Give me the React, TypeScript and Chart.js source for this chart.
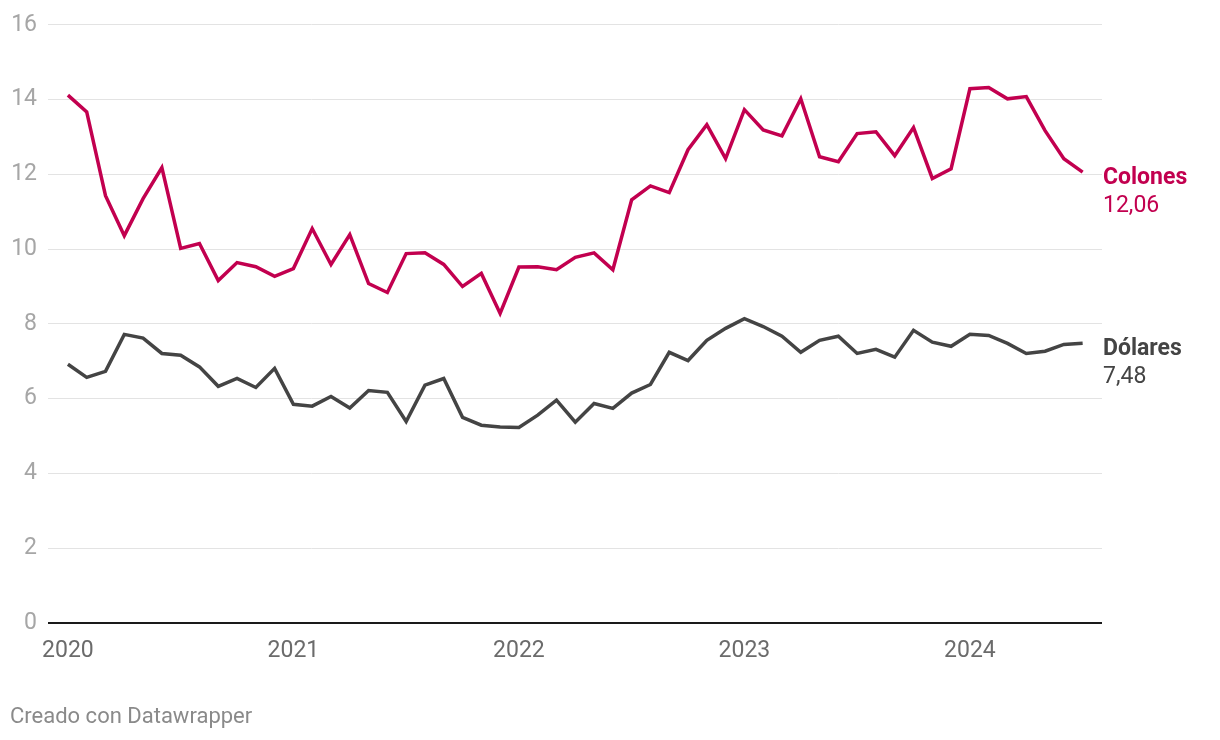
import React, { useEffect, useRef } from "react";
import { Chart, registerables } from "chart.js";

Chart.register(...registerables);

const months: string[] = [
  "2020-01","2020-02","2020-03","2020-04","2020-05","2020-06","2020-07","2020-08","2020-09","2020-10","2020-11","2020-12",
  "2021-01","2021-02","2021-03","2021-04","2021-05","2021-06","2021-07","2021-08","2021-09","2021-10","2021-11","2021-12",
  "2022-01","2022-02","2022-03","2022-04","2022-05","2022-06","2022-07","2022-08","2022-09","2022-10","2022-11","2022-12",
  "2023-01","2023-02","2023-03","2023-04","2023-05","2023-06","2023-07","2023-08","2023-09","2023-10","2023-11","2023-12",
  "2024-01","2024-02","2024-03","2024-04","2024-05","2024-06","2024-07",
];

const colones: number[] = [
  14.12, 13.67, 11.43, 10.36, 11.35, 12.18, 10.02, 10.15, 9.16, 9.64, 9.53, 9.27,
  9.48, 10.55, 9.59, 10.39, 9.08, 8.84, 9.88, 9.9, 9.59, 9.0, 9.35, 8.28,
  9.52, 9.53, 9.45, 9.78, 9.9, 9.45, 11.32, 11.69, 11.51, 12.66, 13.33, 12.42,
  13.73, 13.19, 13.03, 14.02, 12.47, 12.34, 13.09, 13.14, 12.5, 13.25, 11.89, 12.15,
  14.29, 14.32, 14.02, 14.08, 13.17, 12.42, 12.06,
];

const dolares: number[] = [
  6.92, 6.57, 6.73, 7.72, 7.62, 7.21, 7.16, 6.85, 6.33, 6.54, 6.3, 6.81,
  5.85, 5.8, 6.06, 5.75, 6.22, 6.17, 5.39, 6.36, 6.54, 5.5, 5.29, 5.24,
  5.23, 5.56, 5.96, 5.37, 5.87, 5.74, 6.15, 6.38, 7.24, 7.02, 7.56, 7.88,
  8.14, 7.93, 7.67, 7.24, 7.56, 7.67, 7.21, 7.32, 7.11, 7.83, 7.51, 7.4,
  7.72, 7.69, 7.48, 7.21, 7.27, 7.45, 7.48,
];

const seriesNames: string[] = ["Colones", "Dólares"];
const seriesColors: string[] = ["#c2004f", "#444444"];
const yearTicks: number[] = [2020, 2021, 2022, 2023, 2024];
const yTicks: number[] = [0, 2, 4, 6, 8, 10, 12, 14, 16];

const FONT = "Roboto";

const endLabels = {
  id: "endLabels",
  afterDatasetsDraw(chart: any) {
    const ctx = chart.ctx;
    const x = chart.chartArea.right + 1;
    chart.data.datasets.forEach((ds: any, i: number) => {
      const meta = chart.getDatasetMeta(i);
      const pt = meta.data[meta.data.length - 1];
      const last = ds.data[ds.data.length - 1].y;
      ctx.save();
      ctx.fillStyle = seriesColors[i];
      ctx.textAlign = "left";
      ctx.textBaseline = "middle";
      ctx.font = `bold 23px ${FONT}`;
      ctx.fillText(seriesNames[i], x, pt.y + 6);
      ctx.font = `23px ${FONT}`;
      ctx.fillText(last.toFixed(2).replace(".", ","), x, pt.y + 34);
      ctx.restore();
    });
  },
};

export default function App() {
  const ref = useRef<HTMLCanvasElement | null>(null);

  useEffect(() => {
    if (!ref.current) return;
    const monthIndex = (m: string) => {
      const [y, mo] = m.split("-").map(Number);
      return (y - 2020) * 12 + (mo - 1);
    };
    const chart = new Chart(ref.current, {
      type: "line",
      data: {
        datasets: [
          {
            label: seriesNames[0],
            data: months.map((m, i) => ({ x: monthIndex(m), y: colones[i] })),
            borderColor: seriesColors[0],
            borderWidth: 3.5,
            pointRadius: 0,
            tension: 0,
            fill: false,
          },
          {
            label: seriesNames[1],
            data: months.map((m, i) => ({ x: monthIndex(m), y: dolares[i] })),
            borderColor: seriesColors[1],
            borderWidth: 3.5,
            pointRadius: 0,
            tension: 0,
            fill: false,
          },
        ],
      },
      options: {
        animation: false,
        responsive: false,
        layout: { padding: { left: 0, right: 118, top: 24, bottom: 0 } },
        plugins: { legend: { display: false }, tooltip: { enabled: false } },
        scales: {
          x: {
            type: "linear",
            min: -1.06,
            max: 55.03,
            grid: { display: false, drawTicks: false },
            border: { display: false },
            afterFit: (s: any) => {
              s.height = 117;
            },
            afterBuildTicks: (s: any) => {
              s.ticks = yearTicks.map((y) => ({ value: (y - 2020) * 12 }));
            },
            ticks: {
              color: "#6b6b6b",
              font: { family: FONT, size: 23 },
              padding: 14,
              maxRotation: 0,
              autoSkip: false,
              callback: (v: any) => String(2020 + Number(v) / 12),
            },
          },
          y: {
            min: 0,
            max: 16,
            afterFit: (s: any) => {
              s.width = 48;
            },
            afterBuildTicks: (s: any) => {
              s.ticks = yTicks.map((v) => ({ value: v }));
            },
            grid: {
              drawTicks: false,
              color: (c: any) => (c.tick && c.tick.value === 0 ? "#1a1a1a" : "#e3e3e3"),
              lineWidth: (c: any) => (c.tick && c.tick.value === 0 ? 2 : 1),
            },
            border: { display: false },
            ticks: {
              color: "#a6a6a6",
              font: { family: FONT, size: 23 },
              padding: 11,
              callback: (v: any) => String(v),
            },
          },
        },
      },
      plugins: [endLabels],
    });
    return () => chart.destroy();
  }, []);

  return (
    <div style={{ position: "fixed", left: 0, top: 0, width: 1220, height: 740, background: "#fff" }}>
      <canvas ref={ref} width={1220} height={740} style={{ width: 1220, height: 740, display: "block" }} />
      <div
        style={{
          position: "absolute",
          left: 10,
          top: 703,
          fontFamily: FONT,
          fontSize: 22,
          color: "#8a8a8a",
          lineHeight: "26px",
        }}
      >
        Creado con Datawrapper
      </div>
    </div>
  );
}
